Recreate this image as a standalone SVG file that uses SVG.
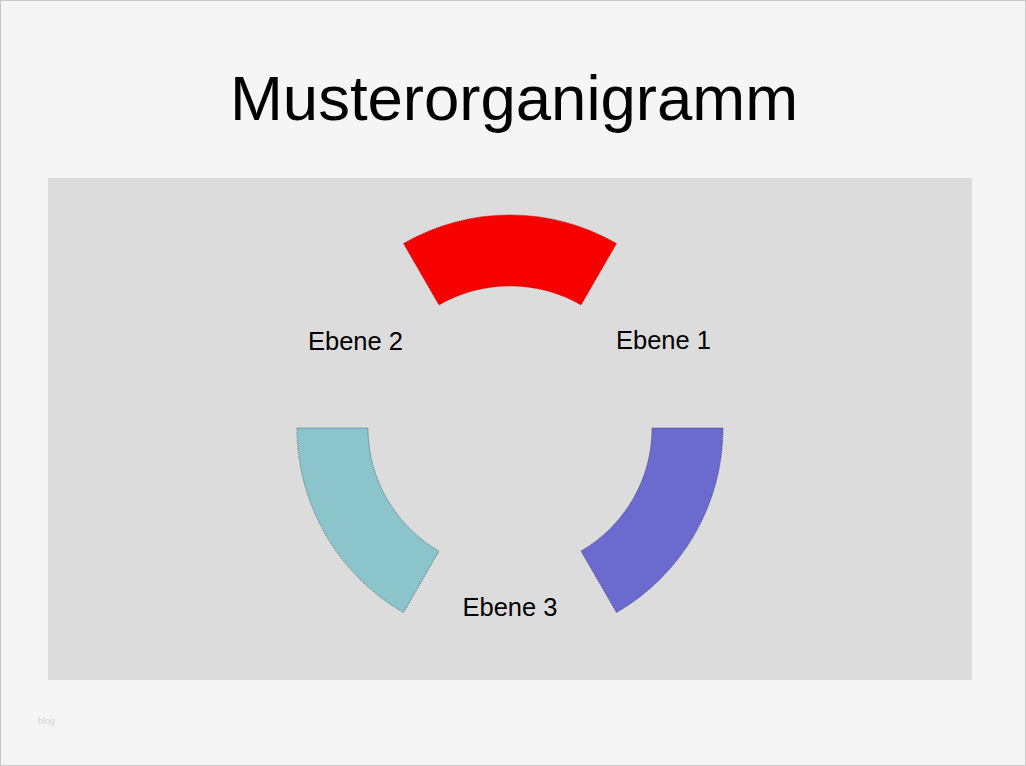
<svg xmlns="http://www.w3.org/2000/svg" width="1026" height="766" viewBox="0 0 1026 766">
<style>
.lbl{font-family:"Liberation Sans",Arial,sans-serif;font-size:25.5px;fill:#000}
.seg{stroke-width:0.8;stroke-dasharray:1 1}
</style>
<rect x="0.5" y="0.5" width="1025" height="765" fill="#f5f5f5" stroke="#c8c8c8"/>
<rect x="48" y="178" width="924" height="502" fill="#dcdcdc"/>
<text x="514" y="120" text-anchor="middle" font-family="Liberation Sans,Arial,sans-serif" font-size="63.5" fill="#000">Musterorganigramm</text>
<text x="38" y="724" font-family="Liberation Sans,Arial,sans-serif" font-size="9" fill="#d2d2d2">blog</text>
<g id="ebene1-node">
<path class="seg" d="M403.5,243.5 A213,213 0 0 1 616.5,243.5 L581,305 A142,142 0 0 0 439,305 Z" fill="#f70000" stroke="#b00000"/>
</g>
<g id="ebene1-seg">
<path class="seg" d="M723,428 A213,213 0 0 1 616.5,612.5 L581,551 A142,142 0 0 0 652,428 Z" fill="#6b6bcf" stroke="#303070"/>
</g>
<g id="ebene3-seg">
<path class="seg" d="M297,428 A213,213 0 0 0 403.5,612.5 L439,551 A142,142 0 0 1 368,428 Z" fill="#8bc4cb" stroke="#305a60"/>
</g>
<g id="labels">
<text class="lbl" x="355.5" y="350" text-anchor="middle">Ebene 2</text>
<text class="lbl" x="663.5" y="349" text-anchor="middle">Ebene 1</text>
<text class="lbl" x="510" y="616" text-anchor="middle">Ebene 3</text>
</g>
<g id="connectors"></g>
</svg>
